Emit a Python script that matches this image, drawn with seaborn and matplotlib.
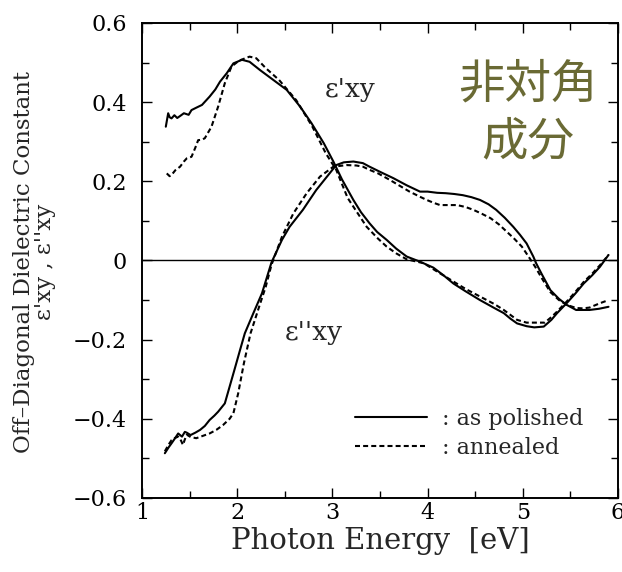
import numpy as np
import pandas as pd
import matplotlib
matplotlib.use("Agg")
import matplotlib.pyplot as plt
from matplotlib.lines import Line2D
import seaborn as sns

# ---------------- data ----------------
e1_pol_x = [1.25, 1.275, 1.29, 1.31, 1.34, 1.37, 1.40, 1.44, 1.49, 1.52, 1.57, 1.63, 1.71, 1.77, 1.82,
            1.89, 1.96, 2.05, 2.13, 2.24, 2.38, 2.52, 2.66, 2.78, 2.91, 3.01, 3.10, 3.22, 3.30, 3.39,
            3.47, 3.57, 3.67, 3.78, 3.92, 4.06, 4.17, 4.27, 4.40, 4.55, 4.70, 4.80, 4.87, 4.94, 5.04,
            5.12, 5.22, 5.30, 5.36, 5.46, 5.55, 5.64, 5.73, 5.81, 5.90]
e1_pol_y = [0.338, 0.372, 0.362, 0.359, 0.367, 0.360, 0.365, 0.372, 0.368, 0.380, 0.386, 0.393, 0.414,
            0.432, 0.452, 0.473, 0.498, 0.507, 0.502, 0.481, 0.456, 0.431, 0.389, 0.347, 0.296, 0.250,
            0.205, 0.153, 0.122, 0.094, 0.072, 0.052, 0.030, 0.010, -0.003, -0.018, -0.038, -0.058,
            -0.078, -0.100, -0.120, -0.133, -0.147, -0.159, -0.166, -0.169, -0.167, -0.150, -0.133,
            -0.108, -0.084, -0.058, -0.037, -0.016, 0.014]

e1_ann_x = [1.26, 1.29, 1.31, 1.35, 1.40, 1.44, 1.47, 1.52, 1.56, 1.59, 1.63, 1.66, 1.73, 1.80, 1.87,
            1.94, 2.02, 2.13, 2.20, 2.30, 2.44, 2.62, 2.79, 2.93, 3.04, 3.16, 3.25, 3.36, 3.48, 3.57,
            3.67, 3.78, 3.96, 4.10, 4.27, 4.40, 4.55, 4.70, 4.80, 4.94, 5.04, 5.15, 5.23, 5.30, 5.36,
            5.46, 5.55, 5.64, 5.73, 5.81, 5.90]
e1_ann_y = [0.220, 0.213, 0.216, 0.228, 0.237, 0.250, 0.258, 0.262, 0.285, 0.304, 0.305, 0.309, 0.338,
            0.389, 0.448, 0.490, 0.505, 0.515, 0.511, 0.486, 0.456, 0.405, 0.338, 0.271, 0.229, 0.158,
            0.125, 0.085, 0.055, 0.035, 0.018, 0.003, -0.007, -0.028, -0.053, -0.072, -0.091, -0.110,
            -0.125, -0.150, -0.157, -0.157, -0.157, -0.143, -0.129, -0.104, -0.080, -0.054, -0.033,
            -0.012, 0.014]

e2_pol_x = [1.24, 1.28, 1.31, 1.35, 1.38, 1.42, 1.45, 1.47, 1.51, 1.56, 1.61, 1.66, 1.71, 1.76, 1.80,
            1.87, 1.92, 1.97, 2.03, 2.08, 2.17, 2.26, 2.36, 2.47, 2.55, 2.69, 2.83, 2.97, 3.04, 3.12,
            3.22, 3.32, 3.39, 3.50, 3.64, 3.78, 3.92, 4.00, 4.10, 4.19, 4.28, 4.37, 4.46, 4.55, 4.64,
            4.72, 4.81, 4.90, 4.97, 5.04, 5.11, 5.14, 5.20, 5.29, 5.38, 5.46, 5.56, 5.63, 5.70, 5.80,
            5.90]
e2_pol_y = [-0.487, -0.472, -0.462, -0.448, -0.437, -0.445, -0.433, -0.435, -0.441, -0.435, -0.428,
            -0.418, -0.403, -0.392, -0.382, -0.361, -0.319, -0.277, -0.226, -0.184, -0.133, -0.083,
            -0.005, 0.052, 0.085, 0.128, 0.178, 0.220, 0.241, 0.248, 0.250, 0.246, 0.237, 0.224,
            0.208, 0.190, 0.174, 0.174, 0.171, 0.170, 0.168, 0.165, 0.160, 0.153, 0.142, 0.128,
            0.108, 0.085, 0.065, 0.043, 0.010, -0.007, -0.035, -0.075, -0.097, -0.112, -0.125,
            -0.125, -0.125, -0.122, -0.117]

e2_ann_x = [1.24, 1.28, 1.31, 1.34, 1.38, 1.41, 1.43, 1.45, 1.47, 1.51, 1.57, 1.64, 1.71, 1.78, 1.85,
            1.92, 1.96, 2.01, 2.07, 2.14, 2.23, 2.30, 2.36, 2.47, 2.59, 2.73, 2.87, 3.01, 3.15, 3.25,
            3.32, 3.39, 3.48, 3.60, 3.81, 3.92, 3.99, 4.06, 4.13, 4.22, 4.31, 4.40, 4.48, 4.57, 4.66,
            4.75, 4.83, 4.91, 4.99, 5.06, 5.13, 5.20, 5.29, 5.38, 5.46, 5.56, 5.63, 5.70, 5.81, 5.90]
e2_ann_y = [-0.482, -0.465, -0.454, -0.449, -0.445, -0.455, -0.466, -0.452, -0.440, -0.446, -0.449,
            -0.443, -0.437, -0.428, -0.416, -0.400, -0.386, -0.336, -0.260, -0.184, -0.117, -0.066,
            -0.011, 0.060, 0.119, 0.170, 0.212, 0.237, 0.241, 0.240, 0.237, 0.229, 0.220, 0.204,
            0.174, 0.161, 0.153, 0.146, 0.140, 0.140, 0.140, 0.135, 0.128, 0.118, 0.107, 0.091,
            0.073, 0.055, 0.035, 0.010, -0.016, -0.045, -0.080, -0.100, -0.112, -0.120, -0.121,
            -0.119, -0.108, -0.100]

samples = ["as polished", "annealed"]
legend_labels = [": as polished", ": annealed"]
x_ticks = [1, 2, 3, 4, 5, 6]
y_ticks = [-0.6, -0.4, -0.2, 0, 0.2, 0.4, 0.6]
y_tick_labels = ["\u22120.6", "\u22120.4", "\u22120.2", "0", "0.2", "0.4", "0.6"]

frames = []
for comp, samp, xs, ys in [("e1", "as polished", e1_pol_x, e1_pol_y),
                           ("e1", "annealed", e1_ann_x, e1_ann_y),
                           ("e2", "as polished", e2_pol_x, e2_pol_y),
                           ("e2", "annealed", e2_ann_x, e2_ann_y)]:
    frames.append(pd.DataFrame({"energy": xs, "value": ys, "component": comp, "sample": samp,
                                "curve": comp + samp}))
df = pd.concat(frames, ignore_index=True)

# ---------------- styling ----------------
sns.set_style("ticks")
plt.rcParams["font.family"] = ["DejaVu Serif"]
plt.rcParams["mathtext.fontset"] = "dejavuserif"

fig = plt.figure(figsize=(6.22, 5.72), dpi=100)
ax = fig.add_axes([0.2283, 0.1294, 0.7653, 0.8304])

ax.axhline(0, color="black", lw=1.0, zorder=1)

sns.lineplot(data=df, x="energy", y="value", style="sample", units="curve",
             estimator=None, sort=False, color="black", lw=1.5,
             dashes={"as polished": "", "annealed": (2.4, 1.5)},
             style_order=samples, legend=False, ax=ax)

ax.set_xlim(1, 6)
ax.set_ylim(-0.6, 0.6)
ax.set_xticks(x_ticks)
ax.set_xticklabels([str(t) for t in x_ticks])
ax.set_yticks(y_ticks)
ax.set_yticklabels(y_tick_labels)
ax.set_xticks(np.arange(1.5, 6, 1.0), minor=True)
ax.set_yticks(np.arange(-0.5, 0.6, 0.2), minor=True)
ax.tick_params(which="both", direction="in", top=True, right=True, width=1.0, color="black",
               labelsize=16, labelcolor="black")
ax.tick_params(which="major", length=7)
ax.tick_params(which="minor", length=5)
ax.tick_params(axis="x", which="major", pad=3)
ax.tick_params(axis="y", which="major", pad=11)
for s in ax.spines.values():
    s.set_linewidth(1.4)
    s.set_color("black")

ax.set_xlabel("Photon Energy  [eV]", fontsize=21, labelpad=2)
ax.set_ylabel("")
fig.text(0.055, 0.542, "Off\u2013Diagonal Dielectric Constant\n\u03b5'xy , \u03b5''xy",
         rotation=90, ha="center", va="center", multialignment="center",
         fontsize=16.5, linespacing=0.95)

ax.text(3.19, 0.431, "\u03b5'xy", fontsize=19, ha="center", va="center")
ax.text(2.80, -0.183, "\u03b5''xy", fontsize=19, ha="center", va="center")

ax.text(0.811, 0.811, "非対角\n成分", transform=ax.transAxes, ha="center", va="center",
        multialignment="center", fontsize=33.5, color="#6a6a34", linespacing=1.25,
        family=["Noto Sans CJK JP", "DejaVu Sans"])

handles = [Line2D([], [], color="black", lw=1.5),
           Line2D([], [], color="black", lw=1.5, dashes=(2.4, 1.5))]
ax.legend(handles, legend_labels, loc="upper left", bbox_to_anchor=(0.447, 0.19),
          frameon=False, fontsize=16, handlelength=3.25, handletextpad=0.68,
          labelspacing=0.32, borderpad=0, borderaxespad=0)

fig.savefig("out.png", dpi=100)
